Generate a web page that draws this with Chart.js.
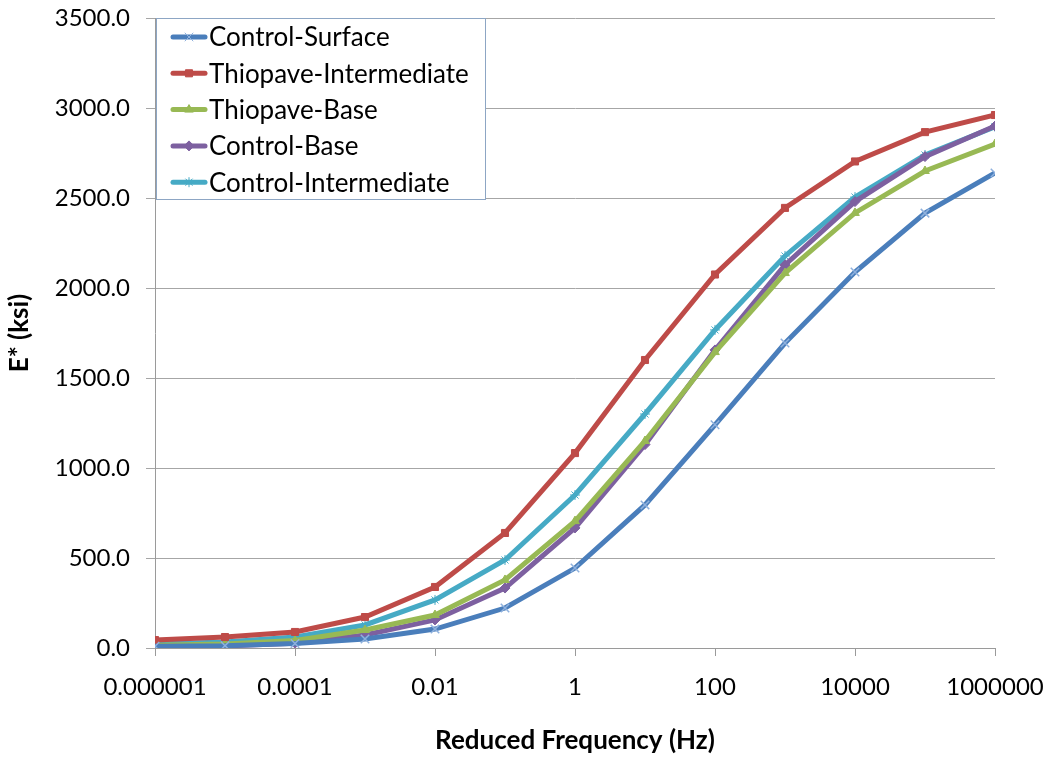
<!DOCTYPE html>
<html>
<head>
<meta charset="utf-8">
<script src="https://cdn.jsdelivr.net/npm/chart.js@4.4.0/dist/chart.umd.min.js"></script>
<style>
html,body{margin:0;padding:0;background:#fff;}
#wrap{width:1047px;height:757px;position:relative;}
</style>
</head>
<body>
<div id="wrap"><canvas id="c" width="1047" height="757"></canvas></div>
<script>
const frequencies = [1e-6, 1e-5, 1e-4, 1e-3, 1e-2, 1e-1, 1, 10, 100, 1e3, 1e4, 1e5, 1e6];
const xTickLabels = ['0.000001', '0.0001', '0.01', '1', '100', '10000', '1000000'];

const controlSurface      = [10, 13, 25, 50, 105, 222, 444, 795, 1240, 1694, 2089, 2416, 2639];
const thiopaveIntermediate = [44, 61, 89, 172, 339, 639, 1083, 1600, 2075, 2445, 2703, 2866, 2961];
const thiopaveBase        = [15, 22, 42, 100, 183, 378, 705, 1150, 1644, 2083, 2417, 2650, 2800];
const controlBase         = [8, 11, 27, 72, 156, 333, 667, 1130, 1656, 2128, 2480, 2730, 2900];
const controlIntermediate = [22, 33, 61, 128, 267, 489, 850, 1300, 1767, 2178, 2505, 2739, 2896];

const seriesNames = ['Control-Surface', 'Thiopave-Intermediate', 'Thiopave-Base', 'Control-Base', 'Control-Intermediate'];
const seriesValues = [controlSurface, thiopaveIntermediate, thiopaveBase, controlBase, controlIntermediate];
const seriesColors = ['#4A7EBB', '#BE4B48', '#98B954', '#7D60A0', '#46AAC5'];
const markerColors = ['#8FB1DE', '#BE4B48', '#98B954', '#7D60A0', '#46AAC5'];
const markerStyles = ['crossRot', 'rect', 'triangle', 'rectRot', 'star'];
const markerSizes = [6, 5, 5, 5, 5];

const FONT = 'Lato, "Open Sans", sans-serif';

const datasets = seriesNames.map((name, i) => ({
  label: name,
  data: frequencies.map((f, j) => ({x: f, y: seriesValues[i][j]})),
  borderColor: seriesColors[i],
  backgroundColor: markerColors[i],
  pointBorderColor: markerColors[i],
  pointBackgroundColor: markerColors[i],
  pointStyle: markerStyles[i],
  pointRadius: markerSizes[i],
  pointBorderWidth: i === 0 ? 1.5 : 1,
  borderWidth: 5,
  tension: 0,
  fill: false
}));

const legendBox = {
  id: 'legendBox',
  afterDraw(chart) {
    const ctx = chart.ctx;
    const a = chart.chartArea;
    const x0 = a.left + 1, y0 = a.top, w = 329, h = 181;
    ctx.save();
    ctx.fillStyle = '#fff';
    ctx.fillRect(x0, y0, w, h);
    ctx.strokeStyle = '#8DA6C4';
    ctx.lineWidth = 1;
    ctx.strokeRect(x0 + 0.5, y0 + 0.5, w, h);
    ctx.font = '26px ' + FONT;
    ctx.textBaseline = 'middle';
    ctx.textAlign = 'left';
    seriesNames.forEach((name, i) => {
      const cy = y0 + 19 + i * 36.3;
      ctx.strokeStyle = seriesColors[i];
      ctx.lineWidth = 5;
      ctx.lineCap = 'round';
      ctx.beginPath();
      ctx.moveTo(x0 + 17, cy);
      ctx.lineTo(x0 + 49, cy);
      ctx.stroke();
      ctx.lineCap = 'butt';
      ctx.lineWidth = 1;
      ctx.fillStyle = markerColors[i];
      ctx.strokeStyle = markerColors[i];
      Chart.helpers.drawPoint(ctx, {
        pointStyle: markerStyles[i], radius: markerSizes[i], borderWidth: 1, rotation: 0
      }, x0 + 33, cy);
      ctx.fillStyle = '#000';
      ctx.fillText(name, x0 + 53, cy + 1);
    });
    ctx.restore();
  }
};

new Chart(document.getElementById('c'), {
  type: 'line',
  data: { datasets },
  plugins: [legendBox],
  options: {
    responsive: false,
    animation: false,
    layout: { padding: { top: 18, right: 52, left: 0, bottom: 0 } },
    plugins: { legend: { display: false }, tooltip: { enabled: false } },
    scales: {
      x: {
        type: 'logarithmic',
        min: 1e-6,
        max: 1e6,
        afterBuildTicks: (scale) => {
          scale.ticks = xTickLabels.map(t => ({ value: parseFloat(t) }));
        },
        afterFit: (scale) => {
          scale.height = 109;
          scale.paddingLeft = 0; scale.paddingRight = 0;
          scale.paddingTop = 0; scale.paddingBottom = 0;
        },
        ticks: {
          autoSkip: false,
          maxRotation: 0,
          padding: 17,
          color: '#000',
          font: { family: FONT, size: 24 },
          callback: (v) => {
            const k = xTickLabels.find(t => Math.abs(Math.log10(parseFloat(t)) - Math.log10(v)) < 1e-6);
            return k || '';
          }
        },
        grid: { drawOnChartArea: false, drawTicks: true, tickLength: 8, color: '#9A9A9A' },
        border: { display: true, color: '#9A9A9A' },
        title: {
          display: true,
          text: 'Reduced Frequency (Hz)',
          color: '#000',
          font: { family: FONT, size: 26, weight: 'bold' },
          padding: { top: 0, bottom: 1 }
        }
      },
      y: {
        min: 0,
        max: 3500,
        afterFit: (scale) => {
          scale.width = 155;
          scale.paddingLeft = 0; scale.paddingRight = 0;
          scale.paddingTop = 0; scale.paddingBottom = 0;
        },
        ticks: {
          stepSize: 500,
          padding: 16,
          color: '#000',
          font: { family: FONT, size: 24 },
          callback: (v) => Number(v).toFixed(1)
        },
        grid: { color: '#A6A6A6', tickLength: 9, lineWidth: 1 },
        border: { display: true, color: '#9A9A9A' },
        title: {
          display: true,
          text: 'E* (ksi)',
          color: '#000',
          font: { family: FONT, size: 26, weight: 'bold' },
          padding: { top: 4, bottom: 0 }
        }
      }
    }
  }
});
</script>
</body>
</html>
